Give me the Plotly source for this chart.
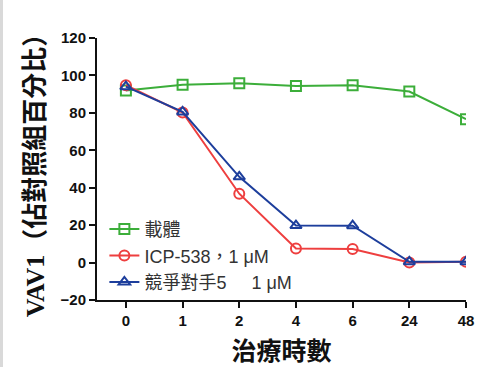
import plotly.graph_objects as go

hours = ["0", "1", "2", "4", "6", "24", "48"]
vehicle = [92.0, 95.0, 95.8, 94.4, 94.8, 91.4, 76.6]
icp538 = [94.8, 80.2, 36.8, 7.5, 7.3, 0.0, 0.5]
competitor5 = [94.0, 80.5, 45.8, 19.8, 19.7, 0.4, 0.4]

series = [
    ("載體", vehicle, "#3cae3a", "square-open"),
    ("ICP-538，1 μM", icp538, "#ee3f3f", "circle-open"),
    ("競爭對手5\u00a0\u00a0\u00a0\u00a0\u00a01 μM", competitor5, "#1d3e9c", "triangle-up-open"),
]

fig = go.Figure()
for name, vals, color, symbol in series:
    fig.add_trace(go.Scatter(
        x=list(range(len(hours))), y=vals, name=name, mode="lines+markers",
        line=dict(color=color, width=2),
        marker=dict(symbol=symbol, size=10, color=color, line=dict(color=color, width=2)),
    ))

tick_font = dict(family="Liberation Sans, Arial, sans-serif", size=15, color="#111", weight="bold")

fig.update_layout(
    width=484, height=367,
    margin=dict(l=97, r=18, t=38, b=67),
    paper_bgcolor="white", plot_bgcolor="white",
    showlegend=True,
    legend=dict(
        x=0.02, y=0.34, xanchor="left", yanchor="top",
        bgcolor="rgba(0,0,0,0)",
        font=dict(family="Liberation Sans, Noto Sans CJK TC, sans-serif", size=18, color="#333"),
        itemwidth=30, tracegroupgap=0,
    ),
    xaxis=dict(
        range=[-0.51, 6.0], tickmode="array", automargin=False,
        tickvals=list(range(len(hours))), ticktext=hours,
        showgrid=False, zeroline=False,
        showline=True, linecolor="#111", linewidth=2,
        ticks="outside", ticklen=6, tickwidth=2, tickcolor="#111",
        tickfont=tick_font,
        title=dict(text="<b>治療時數</b>",
                   font=dict(family="Liberation Serif, Noto Sans CJK TC, serif", size=25, color="#111"),
                   standoff=14),
    ),
    yaxis=dict(
        range=[-20, 120], tickmode="array", automargin=False,
        tickvals=[-20, 0, 20, 40, 60, 80, 100, 120],
        showgrid=False, zeroline=False,
        showline=True, linecolor="#111", linewidth=2,
        ticks="outside", ticklen=6, tickwidth=2, tickcolor="#111",
        tickfont=tick_font,
        title=dict(text="<b>VAV1（佔對照組百分比）</b>",
                   font=dict(family="Liberation Serif, Noto Sans CJK TC, serif", size=26, color="#111"),
                   standoff=8),
    ),
    shapes=[dict(type="rect", xref="paper", yref="paper", x0=-97/369, x1=-94/369,
                 y0=-67/262, y1=1 + 38/262, fillcolor="#d9d9d9", line=dict(width=0), layer="below")],
)

fig.write_html("out.html")
